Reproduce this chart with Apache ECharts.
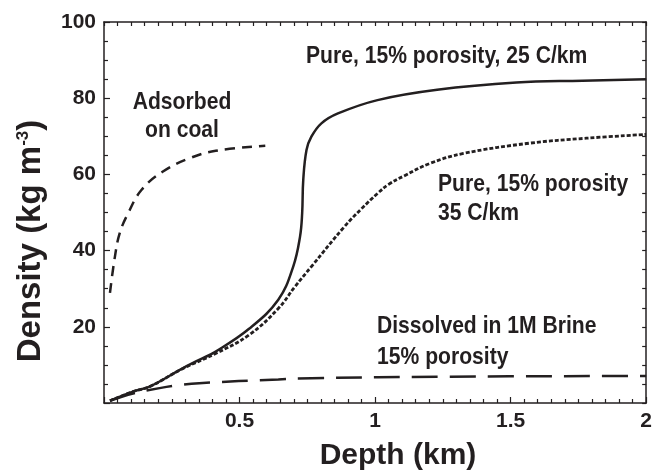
<!DOCTYPE html>
<html>
<head>
<meta charset="utf-8">
<title>Density vs depth</title>
<script src="https://cdn.jsdelivr.net/npm/echarts@6.0.0/dist/echarts.min.js"></script>
<style>
  html, body { margin: 0; padding: 0; background: #fff; }
  #density-map { width: 655px; height: 475px; }
</style>
</head>
<body>
<div id="density-map"></div>
<script>
// 数据 (depth km / density kg m-3)
let xTicks = [0.5, 1, 1.5, 2];
let yTicks = [20, 40, 60, 80, 100];

let pure25Depth = [0.022, 0.107, 0.168, 0.29, 0.351, 0.412, 0.534, 0.643, 0.698, 0.723, 0.731, 0.735, 0.747, 0.765, 0.802, 0.863, 1.009, 1.229, 1.521, 1.765, 2.0];
let pure25Density = [0.6, 3.0, 4.3, 9.1, 11.3, 13.5, 19.4, 27.1, 35.8, 43.6, 49.8, 58.5, 66.4, 69.9, 73.4, 76.0, 79.5, 82.2, 84.1, 84.6, 85.0];

let pure35Depth = [0.022, 0.107, 0.168, 0.29, 0.412, 0.534, 0.643, 0.704, 0.765, 0.887, 0.95, 1.009, 1.05, 1.107, 1.203, 1.326, 1.57, 1.78, 2.0];
let pure35Density = [0.6, 3.0, 4.3, 9.0, 13.0, 17.8, 24.8, 30.5, 35.8, 46.3, 51.0, 55.0, 57.4, 59.6, 62.9, 65.5, 68.2, 69.5, 70.5];

let coalDepth = [0.022, 0.04, 0.058, 0.089, 0.138, 0.216, 0.314, 0.412, 0.595];
let coalDensity = [28.9, 38.3, 44.6, 49.8, 55.9, 60.7, 64.2, 66.2, 67.5];

let brineDepth = [0.022, 0.107, 0.205, 0.278, 0.351, 0.643, 0.765, 1.253, 2.0];
let brineDensity = [0.6, 2.5, 3.9, 4.7, 5.2, 6.2, 6.5, 6.9, 7.1];

function pairs(xs, ys) {
    return xs.map(function (x, i) { return [x, ys[i]]; });
}

let myChart = echarts.init(document.getElementById('density-map'));

let ink = '#231f20';
let labelFont = 'Liberation Sans';

// 注释文字 (窄体: 横向压缩)
let noteStyle = function (text, x, y, align) {
    return {
        type: 'text',
        x: x,
        y: y,
        scaleX: 0.88,
        style: {
            text: text,
            fill: ink,
            font: 'bold 24px ' + labelFont,
            align: align || 'left',
            verticalAlign: 'middle'
        }
    };
};

let lineSeries = function (name, data, type, width) {
    return {
        name: name,
        type: 'line',
        data: data,
        smooth: 0.4,
        showSymbol: false,
        lineStyle: { color: ink, width: width, type: type }
    };
};

let option = {
    animation: false,
    grid: { left: 104, right: 5, top: 22, bottom: 72 },
    xAxis: [
        {
            type: 'value', min: 0, max: 2, interval: 0.5,
            position: 'bottom',
            splitLine: { show: false },
            axisLine: { onZero: false, lineStyle: { color: ink, width: 1.5 } },
            axisTick: { inside: true, length: 6, lineStyle: { color: ink, width: 1.2 } },
            minorTick: { show: true, splitNumber: 10, length: 4, lineStyle: { color: ink, width: 1.2 } },
            axisLabel: {
                margin: 8, color: ink, fontFamily: labelFont, fontWeight: 'bold', fontSize: 21,
                formatter: function (v) { return xTicks.indexOf(v) >= 0 ? String(v) : ''; }
            }
        },
        {
            type: 'value', min: 0, max: 2, interval: 0.5,
            position: 'top',
            splitLine: { show: false },
            axisLine: { onZero: false, lineStyle: { color: ink, width: 1.5 } },
            axisTick: { inside: true, length: 4, lineStyle: { color: ink, width: 1.2 } },
            minorTick: { show: true, splitNumber: 10, length: 4, lineStyle: { color: ink, width: 1.2 } },
            axisLabel: { show: false }
        }
    ],
    yAxis: [
        {
            type: 'value', min: 0, max: 100, interval: 20,
            position: 'left',
            splitLine: { show: false },
            axisLine: { show: true, onZero: false, lineStyle: { color: ink, width: 1.5 } },
            axisTick: { show: true, inside: true, length: 6, lineStyle: { color: ink, width: 1.2 } },
            minorTick: { show: true, splitNumber: 4, length: 4, lineStyle: { color: ink, width: 1.2 } },
            axisLabel: {
                margin: 8, color: ink, fontFamily: labelFont, fontWeight: 'bold', fontSize: 21,
                formatter: function (v) { return yTicks.indexOf(v) >= 0 ? String(v) : ''; }
            }
        },
        {
            type: 'value', min: 0, max: 100, interval: 20,
            position: 'right',
            splitLine: { show: false },
            axisLine: { show: true, onZero: false, lineStyle: { color: ink, width: 1.5 } },
            axisTick: { show: true, inside: true, length: 4, lineStyle: { color: ink, width: 1.2 } },
            minorTick: { show: true, splitNumber: 4, length: 4, lineStyle: { color: ink, width: 1.2 } },
            axisLabel: { show: false }
        }
    ],
    series: [
        lineSeries('Pure, 15% porosity, 25 C/km', pairs(pure25Depth, pure25Density), 'solid', 2.5),
        lineSeries('Pure, 15% porosity 35 C/km', pairs(pure35Depth, pure35Density), [4, 2], 2.8),
        lineSeries('Adsorbed on coal', pairs(coalDepth, coalDensity), [10, 7], 2.5),
        lineSeries('Dissolved in 1M Brine 15% porosity', pairs(brineDepth, brineDensity), [26, 12], 2.5)
    ],
    graphic: [
        noteStyle('Pure, 15% porosity, 25 C/km', 306, 56),
        noteStyle('Adsorbed', 182, 102, 'center'),
        noteStyle('on coal', 182, 130, 'center'),
        noteStyle('Pure, 15% porosity', 438, 184),
        noteStyle('35 C/km', 438, 213),
        noteStyle('Dissolved in 1M Brine', 377, 326),
        noteStyle('15% porosity', 377, 357),
        {
            type: 'text', x: 398, y: 456,
            style: {
                text: 'Depth (km)', fill: ink, font: 'bold 30px ' + labelFont,
                align: 'center', verticalAlign: 'middle'
            }
        },
        {
            type: 'text', x: 31, y: 241, rotation: Math.PI / 2,
            style: {
                text: '{m|Density (kg m}{s|-3}{m|)}',
                fill: ink, align: 'center', verticalAlign: 'middle',
                rich: {
                    m: { fontFamily: labelFont, fontWeight: 'bold', fontSize: 33, fill: ink },
                    s: { fontFamily: labelFont, fontWeight: 'bold', fontSize: 17, fill: ink, verticalAlign: 'top' }
                }
            }
        }
    ]
};

myChart.setOption(option);
window.addEventListener('resize', function () {
    myChart.resize();
});
</script>
</body>
</html>
